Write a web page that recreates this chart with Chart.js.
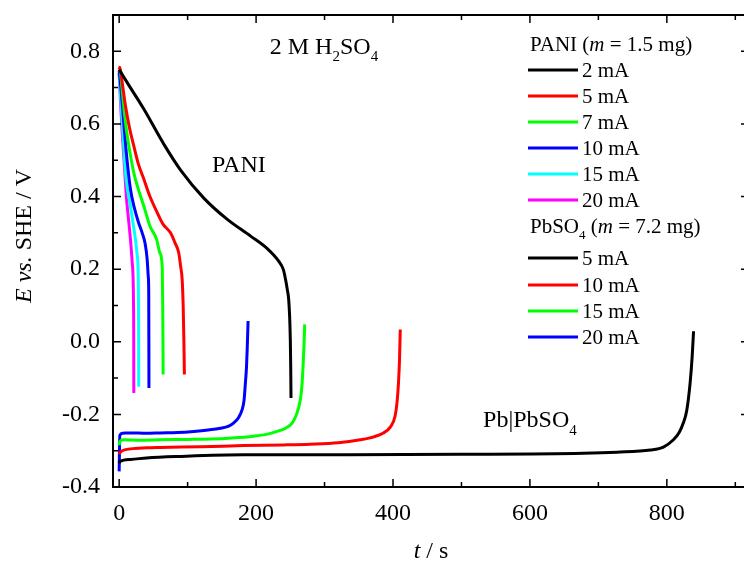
<!DOCTYPE html>
<html>
<head>
<meta charset="utf-8">
<script src="https://cdn.jsdelivr.net/npm/chart.js@4.4.0/dist/chart.umd.min.js"></script>
<style>
  html, body { margin: 0; padding: 0; background: #fff; overflow: hidden; }
</style>
</head>
<body>
<canvas id="graph" width="760" height="562"></canvas>
<script>
// values: time (s) and potential (V vs SHE)
// PANI discharge curves
const pani2_t = [0, 12, 36, 65, 90, 124, 158, 192, 216, 233, 240, 243, 245.5, 247.6, 249, 250, 250.6, 251];
const pani2_E = [0.75, 0.713, 0.641, 0.545, 0.472, 0.395, 0.337, 0.291, 0.257, 0.222, 0.198, 0.172, 0.145, 0.117, 0.07, 0.006, -0.07, -0.155];
const pani5_t = [0, 1, 4, 9.2, 15, 21.3, 28, 36, 45, 55.5, 64, 75, 81.4, 87, 89.7, 92, 93.5, 94.5, 95.3];
const pani5_E = [0.75, 0.756, 0.72, 0.65, 0.59, 0.54, 0.49, 0.448, 0.40, 0.356, 0.324, 0.30, 0.273, 0.245, 0.209, 0.172, 0.10, 0.006, -0.09];
const pani7_t = [0, 2, 5, 9.2, 15, 21.3, 28, 36, 44.9, 54.7, 59.5, 62.8, 63.5, 64, 64.2];
const pani7_E = [0.751, 0.74, 0.68, 0.604, 0.53, 0.466, 0.42, 0.374, 0.319, 0.282, 0.245, 0.209, 0.117, 0.006, -0.09];
const pani10_t = [0, 3, 6.7, 11, 16.5, 22, 28, 33.6, 38, 40.9, 42.5, 43.2, 43.4, 43.5];
const pani10_E = [0.746, 0.69, 0.604, 0.51, 0.42, 0.37, 0.33, 0.30, 0.27, 0.227, 0.18, 0.135, 0.0, -0.127];
const pani15_t = [0, 3, 6, 9.2, 13, 16.5, 20, 23.8, 26.2, 27.5, 28.2, 28.5, 28.6];
const pani15_E = [0.74, 0.65, 0.56, 0.466, 0.41, 0.374, 0.33, 0.282, 0.24, 0.209, 0.12, 0.006, -0.124];
const pani20_t = [0, 2, 4, 6.7, 10.8, 13, 16.5, 19, 20.4, 21, 21.3, 21.4];
const pani20_E = [0.74, 0.66, 0.59, 0.512, 0.393, 0.35, 0.282, 0.22, 0.172, 0.1, 0.006, -0.141];

// Pb|PbSO4 curves
const pb5_t = [0, 0.8, 16.5, 40, 84.7, 182, 328, 500, 678, 727, 776, 795, 809.6, 818, 824, 829, 834, 837, 839];
const pb5_E = [-0.335, -0.33, -0.324, -0.32, -0.316, -0.311, -0.311, -0.31, -0.307, -0.304, -0.298, -0.29, -0.27, -0.25, -0.224, -0.19, -0.113, -0.04, 0.029];
const pb10_t = [0, 0.8, 16.5, 40, 60, 120, 182, 240, 279, 320, 352, 372, 386, 396, 403, 406, 408, 409.5, 410.6];
const pb10_E = [-0.31, -0.306, -0.295, -0.292, -0.291, -0.289, -0.286, -0.284, -0.282, -0.278, -0.27, -0.262, -0.251, -0.235, -0.205, -0.165, -0.113, -0.05, 0.034];
const pb15_t = [0, 0.8, 6.7, 30, 60, 100, 133, 165, 196.5, 215, 230.6, 243, 252.6, 259, 264.7, 267, 268.6, 270, 271];
const pb15_E = [-0.285, -0.275, -0.27, -0.271, -0.27, -0.269, -0.268, -0.265, -0.26, -0.255, -0.247, -0.238, -0.224, -0.2, -0.159, -0.12, -0.068, -0.01, 0.048];
const pb20_t = [0, 1, 5, 16.5, 40, 60, 85, 109, 130, 148, 160, 167, 174, 179.6, 182.5, 184.4, 186, 187, 188.3];
const pb20_E = [-0.357, -0.258, -0.252, -0.251, -0.252, -0.251, -0.25, -0.247, -0.243, -0.238, -0.232, -0.224, -0.21, -0.187, -0.16, -0.113, -0.07, -0.021, 0.057];

const paniLabels = ['2 mA', '5 mA', '7 mA', '10 mA', '15 mA', '20 mA'];
const pbLabels = ['5 mA', '10 mA', '15 mA', '20 mA'];
const paniColors = ['#000000', '#ff0000', '#00ff00', '#0000ff', '#00ffff', '#ff00ff'];
const pbColors = ['#000000', '#ff0000', '#00ff00', '#0000ff'];

const xTickLabels = [0, 200, 400, 600, 800];
const xMinorTicks = [100, 300, 500, 700, 900];
const yTickLabels = [-0.4, -0.2, 0.0, 0.2, 0.4, 0.6, 0.8];
const yMinorTicks = [-0.3, -0.1, 0.1, 0.3, 0.5, 0.7];

const SERIF = '"Liberation Serif", "Times New Roman", serif';

function toPoints(t, E) {
    return t.map(function(v, i) { return { x: v, y: E[i] }; });
}

var paniSeries = [[pani2_t, pani2_E], [pani5_t, pani5_E], [pani7_t, pani7_E], [pani10_t, pani10_E], [pani15_t, pani15_E], [pani20_t, pani20_E]];
var pbSeries = [[pb5_t, pb5_E], [pb10_t, pb10_E], [pb15_t, pb15_E], [pb20_t, pb20_E]];

var datasets = [];
paniSeries.forEach(function(s, i) {
    datasets.push({ label: 'PANI ' + paniLabels[i], group: 0, data: toPoints(s[0], s[1]), borderColor: paniColors[i] });
});
pbSeries.forEach(function(s, i) {
    datasets.push({ label: 'PbSO4 ' + pbLabels[i], group: 1, data: toPoints(s[0], s[1]), borderColor: pbColors[i] });
});
datasets.forEach(function(d) {
    d.showLine = true;
    d.pointRadius = 0;
    d.borderWidth = 3;
    d.cubicInterpolationMode = 'monotone';
    d.fill = false;
});

// text with italic / subscript parts: [text, 'i' | 's' | '']
function richWidth(ctx, parts, size) {
    var w = 0;
    parts.forEach(function(p) {
        ctx.font = (p[1] === 'i' ? 'italic ' : '') + (p[1] === 's' ? Math.round(size * 0.62) : size) + 'px ' + SERIF;
        w += ctx.measureText(p[0]).width;
    });
    return w;
}
function drawRich(ctx, parts, x, y, size, align) {
    var w = richWidth(ctx, parts, size);
    var cx = align === 'center' ? x - w / 2 : x;
    ctx.textAlign = 'left';
    ctx.textBaseline = 'alphabetic';
    ctx.fillStyle = '#000';
    parts.forEach(function(p) {
        var sub = p[1] === 's';
        ctx.font = (p[1] === 'i' ? 'italic ' : '') + (sub ? Math.round(size * 0.62) : size) + 'px ' + SERIF;
        ctx.fillText(p[0], cx, sub ? y + size * 0.3 : y);
        cx += ctx.measureText(p[0]).width;
    });
}

var frameAndText = {
    id: 'frameAndText',
    afterDatasetsDraw: function(chart) {
        var ctx = chart.ctx;
        var a = chart.chartArea;
        var xs = chart.scales.x, ys = chart.scales.y;
        ctx.save();

        // frame
        ctx.strokeStyle = '#000';
        ctx.lineWidth = 2;
        ctx.strokeRect(a.left, a.top, a.right - a.left, a.bottom - a.top);

        // inward ticks on all four sides
        ctx.lineWidth = 1.5;
        ctx.beginPath();
        function xTick(v, len) {
            var px = xs.getPixelForValue(v);
            ctx.moveTo(px, a.bottom); ctx.lineTo(px, a.bottom - len);
            ctx.moveTo(px, a.top); ctx.lineTo(px, a.top + len);
        }
        function yTick(v, len) {
            var py = ys.getPixelForValue(v);
            ctx.moveTo(a.left, py); ctx.lineTo(a.left + len, py);
            ctx.moveTo(a.right, py); ctx.lineTo(a.right - len, py);
        }
        xTickLabels.forEach(function(v) { xTick(v, 8); });
        xMinorTicks.forEach(function(v) { xTick(v, 5); });
        yTickLabels.forEach(function(v) { yTick(v, 8); });
        yMinorTicks.forEach(function(v) { yTick(v, 5); });
        ctx.stroke();

        // axis titles
        drawRich(ctx, [['t', 'i'], [' / s', '']], (a.left + a.right) / 2, 558, 24, 'center');
        ctx.save();
        ctx.translate(31, 236);
        ctx.rotate(-Math.PI / 2);
        drawRich(ctx, [['E', 'i'], [' ', ''], ['vs.', 'i'], [' SHE / V', '']], 0, 0, 24, 'center');
        ctx.restore();

        // annotations
        drawRich(ctx, [['2 M H', ''], ['2', 's'], ['SO', ''], ['4', 's']], xs.getPixelForValue(220), ys.getPixelForValue(0.793), 24, 'left');
        drawRich(ctx, [['PANI', '']], xs.getPixelForValue(135.5), ys.getPixelForValue(0.467), 24, 'left');
        drawRich(ctx, [['Pb|PbSO', ''], ['4', 's']], xs.getPixelForValue(531.6), ys.getPixelForValue(-0.236), 24, 'left');

        // legend
        var lx = 528, ly = [70, 96, 122, 148, 174, 200], ly2 = [258, 285, 311, 337];
        drawRich(ctx, [['PANI (', ''], ['m', 'i'], [' = 1.5 mg)', '']], 530, 51, 21, 'left');
        drawRich(ctx, [['PbSO', ''], ['4', 's'], [' (', ''], ['m', 'i'], [' = 7.2 mg)', '']], 530, 233, 21, 'left');
        var rowsA = chart.data.datasets.filter(function(d) { return d.group === 0; });
        var rowsB = chart.data.datasets.filter(function(d) { return d.group === 1; });
        function legendRow(d, y, text) {
            ctx.strokeStyle = d.borderColor;
            ctx.lineWidth = 3;
            ctx.beginPath();
            ctx.moveTo(lx, y); ctx.lineTo(lx + 50, y);
            ctx.stroke();
            drawRich(ctx, [[text, '']], lx + 54, y + 7, 21, 'left');
        }
        rowsA.forEach(function(d, i) { legendRow(d, ly[i], paniLabels[i]); });
        rowsB.forEach(function(d, i) { legendRow(d, ly2[i], pbLabels[i]); });

        ctx.restore();
    }
};

var ctx = document.getElementById('graph');
new Chart(ctx, {
    type: 'scatter',
    data: { datasets: datasets },
    options: {
        responsive: false,
        animation: false,
        layout: { padding: { top: 15, right: 11, left: 0, bottom: 0 } },
        plugins: {
            legend: { display: false },
            tooltip: { enabled: false }
        },
        scales: {
            x: {
                type: 'linear',
                min: -9,
                max: 920,
                afterBuildTicks: function(scale) {
                    scale.ticks = xTickLabels.map(function(v) { return { value: v }; });
                },
                afterFit: function(scale) {
                    scale.height = 75;
                    scale.paddingLeft = 0;
                    scale.paddingRight = 0;
                },
                grid: { display: false, drawTicks: false },
                border: { display: false },
                ticks: {
                    color: '#000',
                    padding: 12,
                    maxRotation: 0,
                    autoSkip: false,
                    font: { family: SERIF, size: 24 },
                    callback: function(v) { return String(v); }
                }
            },
            y: {
                type: 'linear',
                min: -0.4,
                max: 0.9,
                afterBuildTicks: function(scale) {
                    scale.ticks = yTickLabels.map(function(v) { return { value: v }; });
                },
                afterFit: function(scale) {
                    scale.width = 113;
                    scale.paddingTop = 0;
                    scale.paddingBottom = 0;
                },
                grid: { display: false, drawTicks: false },
                border: { display: false },
                ticks: {
                    color: '#000',
                    padding: 13,
                    autoSkip: false,
                    font: { family: SERIF, size: 24 },
                    callback: function(v) { return v.toFixed(1); }
                }
            }
        }
    },
    plugins: [frameAndText]
});
</script>
</body>
</html>
